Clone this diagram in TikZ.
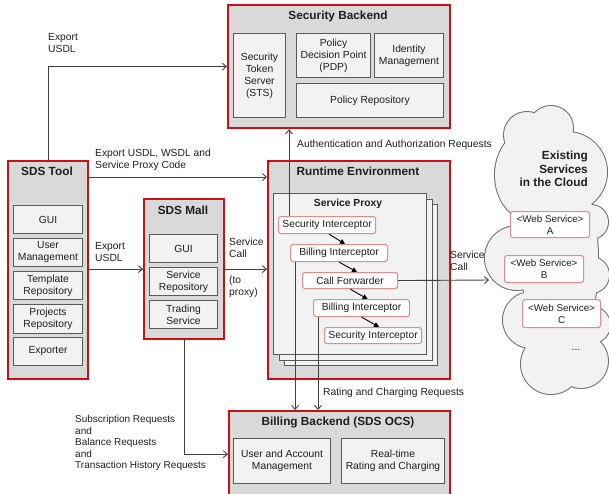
\documentclass[tikz,border=0pt]{standalone}
\usepackage{fontspec}
\setmainfont{Liberation Sans}
\usetikzlibrary{arrows.meta}
\definecolor{redb}{RGB}{200,16,22}
\definecolor{outerfill}{RGB}{217,217,217}
\definecolor{innerfill}{RGB}{242,242,242}
\definecolor{innerline}{RGB}{89,89,89}
\definecolor{pinkline}{RGB}{222,140,140}
\definecolor{connc}{RGB}{64,64,64}
\definecolor{txt}{RGB}{30,30,30}
\definecolor{cloudline}{RGB}{110,110,110}
\newcommand\bfnt{\fontsize{10.3}{12}\selectfont}
\newcommand\ttlfnt{\fontsize{11.8}{13}\selectfont\bfseries}
\tikzset{
 outerbox/.style={draw=redb, line width=2.2pt, fill=outerfill, anchor=north west, inner sep=0pt},
 innerbox/.style={draw=innerline, line width=1pt, fill=innerfill, anchor=north west, inner sep=1pt, align=center, font=\bfnt, text=txt},
 icbox/.style={draw=pinkline, line width=1.1pt, fill=white, rounded corners=2.5pt, anchor=north west, inner sep=0pt, align=center, font=\bfnt, text=txt},
 ttl/.style={font=\ttlfnt, text=txt, inner sep=0pt},
 lbl/.style={font=\bfnt, text=txt, align=left, anchor=west, inner sep=0pt},
 conn/.style={draw=connc, line width=0.9pt, -{Straight Barb[length=4pt,width=7pt]}},
 chain/.style={draw=black, line width=0.9pt, -{Triangle[length=5pt,width=5pt]}},
 frame/.style={draw=innerline, line width=0.8pt, fill=innerfill, anchor=north west, inner sep=0pt},
}
\begin{document}
\begin{tikzpicture}[x=1pt,y=-1pt]
\useasboundingbox (0,0) rectangle (609,493);

% ---------- cloud ----------
\begin{scope}
\clip (0,0) rectangle (609,493);
\draw[cloudline, line width=2pt]
 (527,135) circle[radius=23] (551,128) circle[radius=22] (567,172) circle[radius=40]
 (530,175) ellipse[x radius=35, y radius=45] (517,258) circle[radius=32]
 (531,320) circle[radius=28] (551,364) circle[radius=30] (581,361) circle[radius=27]
 (591,222) circle[radius=17] (591,275) circle[radius=18] (592,325) circle[radius=18]
 (560,260) ellipse[x radius=38, y radius=100];
\fill[innerfill]
 (527,135) circle[radius=23] (551,128) circle[radius=22] (567,172) circle[radius=40]
 (530,175) ellipse[x radius=35, y radius=45] (517,258) circle[radius=32]
 (531,320) circle[radius=28] (551,364) circle[radius=30] (581,361) circle[radius=27]
 (591,222) circle[radius=17] (591,275) circle[radius=18] (592,325) circle[radius=18]
 (560,260) ellipse[x radius=38, y radius=100];
\end{scope}
\node[ttl, align=right, anchor=east, font=\fontsize{11.8}{13.5}\selectfont\bfseries] (cloudT) at (588,169) {Existing\\Services\\in the Cloud};
\node[icbox, minimum width=79, minimum height=26, font=\fontsize{9.8}{12}\selectfont] (wsa) at (510,211) {<Web Service>\\A};
\node[icbox, minimum width=79, minimum height=27, font=\fontsize{9.8}{12}\selectfont] (wsb) at (504,255) {<Web Service>\\B};
\node[icbox, minimum width=78, minimum height=28, font=\fontsize{9.8}{12}\selectfont] (wsc) at (522,299) {<Web Service>\\C};
\node[font=\bfnt, text=txt, inner sep=0pt] (dots) at (576,350) {...};

% ---------- Security Backend ----------
\node[outerbox, minimum width=222, minimum height=123] (sec) at (227,4) {};
\node[ttl] (secT) at (338,16) {Security Backend};
\node[innerbox, minimum width=52, minimum height=84] (sts) at (233,33) {Security\\Token\\Server\\(STS)};
\node[innerbox, minimum width=74, minimum height=44] (pdp) at (296,33) {Policy\\Decision Point\\(PDP)};
\node[innerbox, minimum width=69, minimum height=44] (idm) at (374,33) {Identity\\Management};
\node[innerbox, minimum width=147, minimum height=34] (prep) at (296,83) {Policy Repository};

% ---------- SDS Tool ----------
\node[outerbox, minimum width=80, minimum height=218] (tool) at (7,160) {};
\node[ttl] (toolT) at (47,171) {SDS Tool};
\node[innerbox, minimum width=69, minimum height=28] (tgui) at (13,205) {GUI};
\node[innerbox, minimum width=69, minimum height=28] (tum) at (13,238) {User\\Management};
\node[innerbox, minimum width=69, minimum height=28] (ttr) at (13,271) {Template\\Repository};
\node[innerbox, minimum width=69, minimum height=29] (tpr) at (13,304) {Projects\\Repository};
\node[innerbox, minimum width=69, minimum height=28] (texp) at (13,337) {Exporter};

% ---------- SDS Mall ----------
\node[outerbox, minimum width=80, minimum height=140] (mall) at (143,198) {};
\node[ttl] (mallT) at (183,210) {SDS Mall};
\node[innerbox, minimum width=68, minimum height=28] (mgui) at (149,234) {GUI};
\node[innerbox, minimum width=68, minimum height=28] (msr) at (149,267) {Service\\Repository};
\node[innerbox, minimum width=68, minimum height=28] (mts) at (149,300) {Trading\\Service};

% ---------- Runtime Environment ----------
\node[outerbox, minimum width=182, minimum height=218] (rt) at (267,160) {};
\node[ttl] (rtT) at (358,171) {Runtime Environment};
\node[frame, minimum width=153, minimum height=161] (sp2) at (284,204) {};
\node[frame, minimum width=153, minimum height=161] (sp1) at (278.5,198.5) {};
\node[frame, minimum width=153, minimum height=161] (sp) at (273,193) {};
\node[ttl, font=\fontsize{10.3}{12}\selectfont\bfseries] (spT) at (348,204) {Service Proxy};
\node[icbox, minimum width=97, minimum height=17] (si1) at (278,216) {Security Interceptor};
\node[icbox, minimum width=97, minimum height=17] (bi1) at (290,244) {Billing Interceptor};
\node[icbox, minimum width=95, minimum height=16] (cf) at (302,272) {Call Forwarder};
\node[icbox, minimum width=96, minimum height=17] (bi2) at (313,299) {Billing Interceptor};
\node[icbox, minimum width=97, minimum height=16] (si2) at (324,327) {Security Interceptor};

% ---------- Billing Backend ----------
\node[outerbox, minimum width=221, minimum height=86] (bb) at (228,410) {};
\node[ttl] (bbT) at (338,422) {Billing Backend (SDS OCS)};
\node[innerbox, minimum width=97, minimum height=45] (uam) at (233,438) {User and Account\\Management};
\node[innerbox, minimum width=103, minimum height=45] (rrc) at (341,438) {Real-time\\Rating and Charging};

% ---------- connectors ----------
\draw[conn] (tool.north) |- (sec.west);
\coordinate (e1) at ([yshift=-17pt]tool.north east);
\draw[conn] (e1) -- (e1 -| rt.west);
\draw[conn] (tool.east |- mall.west) -- (mall.west);
\draw[conn] (mall.east) -- (mall.east -| rt.west);
\draw[conn] (mall.south) |- (bb.west);
\draw[conn] ([xshift=11pt]si1.north west) -- ([xshift=11pt]si1.north west |- sec.south);
\draw[conn] ([xshift=5pt]bi1.south west) -- ([xshift=5pt]bi1.south west |- bb.north);
\draw[conn] ([xshift=5pt]bi2.south west) -- ([xshift=5pt]bi2.south west |- bb.north);
\coordinate (cloudin) at (489,280);
\draw[conn] (cf.east) -- (cloudin);
\draw[chain] ([xshift=2pt]si1.south) -- ([xshift=6pt]bi1.north);
\draw[chain] (bi1.south) -- ([xshift=7pt]cf.north);
\draw[chain] (cf.south) -- ([xshift=6pt]bi2.north);
\draw[chain] (bi2.south) -- ([xshift=6pt]si2.north);

% ---------- labels ----------
\node[lbl] (lA) at (48,43) {Export\\USDL};
\node[lbl] (lB) at (95,160) {Export USDL, WSDL and\\Service Proxy Code};
\node[lbl] (lC) at (95,252) {Export\\USDL};
\node[lbl] (lD) at (229,248) {Service\\Call};
\node[lbl] (lE) at (229,287) {(to\\proxy)};
\node[lbl] (lF) at (297,145) {Authentication and Authorization Requests};
\node[lbl] (lG) at (323,393) {Rating and Charging Requests};
\node[lbl] (lH) at (450,261) {Service\\Call};
\node[lbl, font=\fontsize{10}{11.5}\selectfont] (lI) at (75,443) {Subscription Requests\\and\\Balance Requests\\and\\Transaction History Requests};
\end{tikzpicture}
\end{document}
